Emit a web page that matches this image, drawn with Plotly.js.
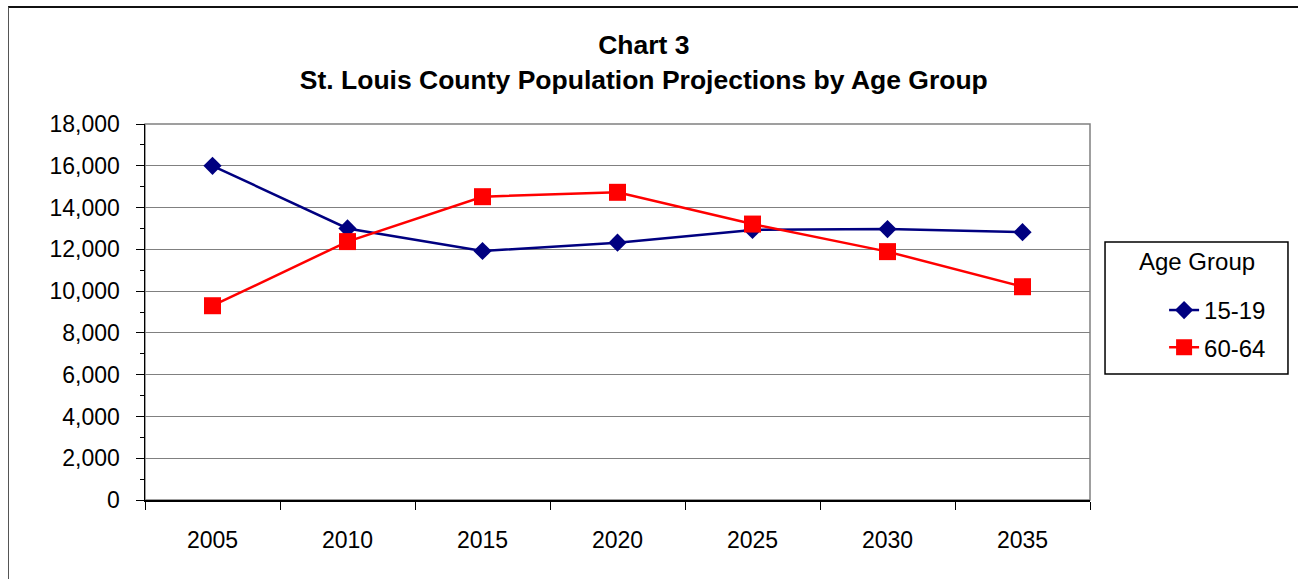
<!DOCTYPE html>
<html>
<head>
<meta charset="utf-8">
<script src="https://cdn.plot.ly/plotly-3.0.1.min.js"></script>
<style>
html,body{margin:0;padding:0;background:#fff;}
#frame{position:absolute;left:8px;top:6px;width:1400px;height:700px;border-left:1.5px solid #555;border-top:2px solid #111;}
#chart{position:absolute;left:0;top:0;width:1298px;height:579px;}
</style>
</head>
<body>
<div id="frame"></div>
<div id="chart"></div>
<script>
const years = ['2005','2010','2015','2020','2025','2030','2035'];
const age15to19 = [16000, 13000, 11920, 12320, 12930, 12970, 12820];
const age60to64 = [9300, 12370, 14520, 14730, 13210, 11890, 10210];
const seriesNames = ['15-19', '60-64'];
const legendTitle = 'Age Group';

const font = 'Liberation Sans, Arial, sans-serif';

const traces = [
  {x: years, y: age15to19, name: seriesNames[0], legendgroup: 'a', type: 'scatter', mode: 'lines+markers',
   line: {color: '#000080', width: 2.5}, marker: {symbol: 'diamond', size: 14, color: '#000080'}},
  {x: years, y: age60to64, name: seriesNames[1], legendgroup: 'b', type: 'scatter', mode: 'lines+markers',
   line: {color: '#FF0000', width: 2.5}, marker: {symbol: 'square', size: 17, color: '#FF0000'}}
];

const layout = {
  width: 1298, height: 579,
  paper_bgcolor: 'rgba(0,0,0,0)', plot_bgcolor: '#fff',
  margin: {l: 145, r: 208, t: 124, b: 79},
  font: {family: font, size: 23, color: '#000'},
  title: {text: '<b>Chart 3<br>St. Louis County Population Projections by Age Group</b>',
          font: {family: font, size: 26.5, color: '#000'}, x: 0.496, xanchor: 'center',
          y: 0.944 - 22/579, yanchor: 'top', yref: 'container'},
  xaxis: {type: 'category', range: [-0.5, 6.5], tickson: 'boundaries', ticks: 'outside', ticklen: 8, tickcolor: '#000',
          showline: true, linecolor: '#000', linewidth: 1.5, showgrid: false, zeroline: false,
          ticklabelstandoff: 19, tickfont: {family: font, size: 23}, fixedrange: true},
  yaxis: {range: [0, 18000], dtick: 2000, tickformat: ',d', ticks: 'outside', ticklen: 8, tickcolor: '#000',
          showline: true, linecolor: '#000', linewidth: 1.5, showgrid: true, gridcolor: '#808080', gridwidth: 1,
          zeroline: false, ticklabelstandoff: 11, tickfont: {family: font, size: 23},
          minor: {dtick: 1000, ticks: 'outside', ticklen: 4, tickcolor: '#000', showgrid: false}},
  shapes: [
    {type: 'rect', xref: 'paper', yref: 'paper', x0: 0, x1: 1, y0: 0, y1: 1,
     line: {color: '#808080', width: 1.5}, layer: 'below'},
    {type: 'rect', xref: 'paper', yref: 'paper', x0: 1.0159, x1: 1.2095, y0: 0.335, y1: 0.686,
     line: {color: '#000', width: 1.5}, fillcolor: '#fff', layer: 'below'}
  ],
  annotations: [
    {text: legendTitle, xref: 'paper', yref: 'paper', x: 1.1127, y: 0.633, xanchor: 'center', yanchor: 'middle',
     showarrow: false, font: {family: font, size: 24, color: '#000'}}
  ],
  showlegend: true,
  legend: {x: 1.0784, y: 0.564, xanchor: 'left', yanchor: 'top', borderwidth: 0,
           bgcolor: 'rgba(0,0,0,0)', font: {family: font, size: 24}, traceorder: 'grouped', tracegroupgap: 3}
};

Plotly.newPlot('chart', traces, layout, {displayModeBar: false, staticPlot: true});
</script>
</body>
</html>
